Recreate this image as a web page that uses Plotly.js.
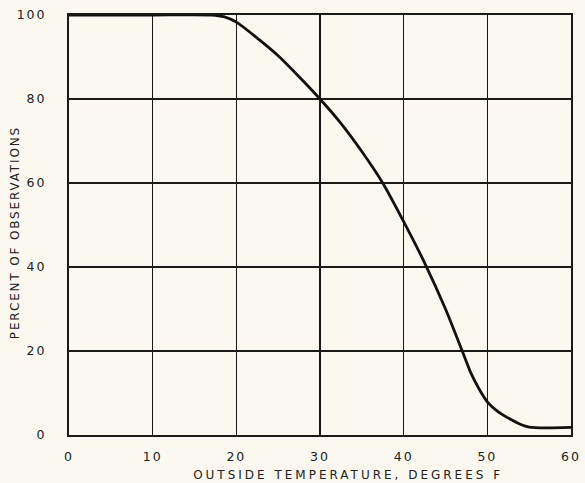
<!DOCTYPE html>
<html>
<head>
<meta charset="utf-8">
<script src="https://cdn.plot.ly/plotly-3.0.1.min.js"></script>
<style>
html,body{margin:0;padding:0;background:#faf8ef;}
#chart{width:585px;height:483px;}
</style>
</head>
<body>
<div id="chart"></div>
<script>
// Outside temperature (degrees F)
const temperature = [0, 10, 17, 18.5, 20, 22.5, 25, 27.5, 30, 32.5, 35, 37.5, 40, 42.5, 45, 47, 48, 49, 50, 51, 52, 53, 54, 55, 57, 60];
// Percent of observations
const percentObs = [100, 100, 100, 99.6, 98.3, 94.5, 90.3, 85.3, 80, 74.2, 67.5, 60, 50.8, 41, 30, 20, 14.9, 11, 7.9, 6, 4.6, 3.5, 2.5, 1.9, 1.7, 1.8];
const xTicks = [0, 10, 20, 30, 40, 50, 60];
const yTicks = [0, 20, 40, 60, 80, 100];
const xTitle = "OUTSIDE TEMPERATURE, DEGREES F";
const yTitle = "PERCENT OF OBSERVATIONS";

const trace = {
  x: temperature,
  y: percentObs,
  mode: 'lines',
  line: {color: '#111', width: 2.8, shape: 'spline', smoothing: 0.7},
  hoverinfo: 'skip'
};

const fontFam = 'DejaVu Sans, sans-serif';
const W = 585, H = 483, mL = 69, mR = 14, mT = 15, mB = 48;
const plotW = W - mL - mR, plotH = H - mT - mB;
const layout = {
  width: W, height: H,
  margin: {l: mL, r: mR, t: mT, b: mB},
  paper_bgcolor: '#faf8ef',
  plot_bgcolor: '#faf8ef',
  showlegend: false,
  xaxis: {
    range: [0, 60], tickvals: xTicks, ticktext: xTicks.map(String),
    showgrid: true, gridcolor: '#1a1a1a', gridwidth: 1.5,
    showline: true, linecolor: '#1a1a1a', linewidth: 2, mirror: true,
    zeroline: false, ticks: '', ticklabelstandoff: 9,
    tickfont: {family: fontFam, size: 12.5, color: '#222'}
  },
  yaxis: {
    range: [0, 100], tickvals: yTicks, ticktext: yTicks.map(String),
    showgrid: true, gridcolor: '#1a1a1a', gridwidth: 1.5,
    showline: true, linecolor: '#1a1a1a', linewidth: 2, mirror: true,
    zeroline: false, ticks: '', ticklabelstandoff: 18,
    tickfont: {family: fontFam, size: 12.5, color: '#222'}
  },
  annotations: [
    {text: xTitle, xref: 'paper', yref: 'paper',
     x: (348 - mL) / plotW, y: -(475 - (H - mB)) / plotH,
     xanchor: 'center', yanchor: 'middle', showarrow: false,
     font: {family: fontFam, size: 12, color: '#222'}},
    {text: yTitle, xref: 'paper', yref: 'paper',
     x: -(mL - 15) / plotW, y: ((H - mB) - 233) / plotH,
     xanchor: 'center', yanchor: 'middle', textangle: -90, showarrow: false,
     font: {family: fontFam, size: 12, color: '#222'}}
  ]
};

function fitSpacing(el, target) {
  const len = el.getComputedTextLength();
  const n = el.textContent.length;
  if (n > 1 && len < target) el.style.letterSpacing = ((target - len) / n).toFixed(2) + 'px';
}

Plotly.newPlot('chart', [trace], layout, {staticPlot: true}).then(() => {
  const ann = document.querySelectorAll('.annotation-text');
  if (ann[0]) fitSpacing(ann[0], 310);
  if (ann[1]) fitSpacing(ann[1], 213);
  document.querySelectorAll('.xtick text, .ytick text').forEach(el => { el.style.letterSpacing = '2px'; });
});
</script>
</body>
</html>
